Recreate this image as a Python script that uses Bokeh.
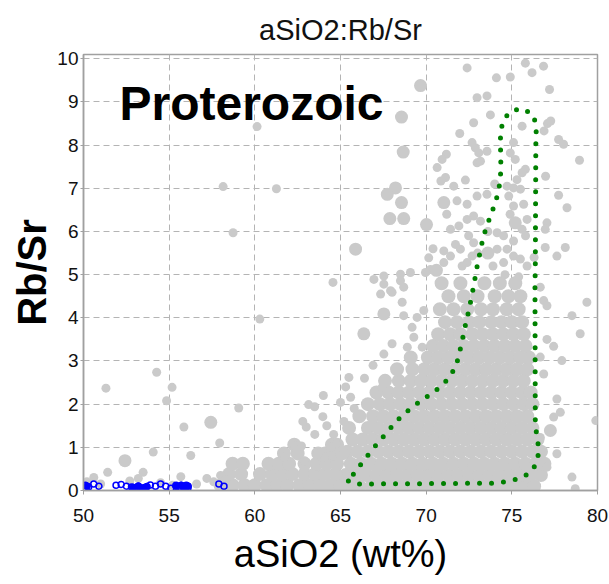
from bokeh.plotting import figure
from bokeh.models import FixedTicker, Range1d, Label
from bokeh.embed import file_html
from bokeh.resources import INLINE

# ---------------- data ----------------
x_ticks = [50, 55, 60, 65, 70, 75, 80]
y_ticks = [0, 1, 2, 3, 4, 5, 6, 7, 8, 9, 10]

# scattered small grey samples
small_x = [60.13, 58.15, 61.26, 58.73, 64.56, 60.29, 54.27, 51.31, 55.17, 54.85, 59.06, 63.97, 55.86, 63.0,
           57.95, 54.07, 56.26, 51.41, 53.48, 55.68, 64.75, 62.33, 62.72, 61.74,
           72.39, 74.1, 74.91, 75.79, 76.85, 76.18, 77.2, 72.97, 73.55, 73.75, 72.77, 75.6, 71.96, 78.95,
           77.73, 78.02, 77.08, 77.27, 76.88, 72.68, 72.87, 73.07, 73.55, 71.18, 70.93, 70.64, 75.1, 74.91,
           75.2, 72.97, 73.17, 75.79, 75.6, 76.97, 71.13, 71.61, 70.86, 72.29, 74.72, 75.1, 75.5, 74.82,
           71.8, 72.39, 72.97, 73.55, 72.77, 73.17, 72.39, 71.91, 71.42, 75.69, 75.89, 75.6, 75.1, 77.05,
           76.95, 77.73, 78.22, 71.71, 72.0, 71.42, 71.03, 72.48, 72.77, 72.68, 72.39, 74.14, 74.52, 75.1,
           74.14, 74.72, 74.52, 75.1, 75.5, 75.89, 76.95, 77.63, 78.12, 70.15, 71.03, 70.25, 69.96, 68.5,
           69.08, 67.53, 66.95, 67.53, 67.92, 67.34, 68.5, 68.69, 68.01, 68.6, 68.69, 68.01, 67.53, 65.49,
           67.43, 65.59, 65.0, 69.18, 69.47, 69.86, 69.28, 68.9, 69.77, 69.11, 76.66, 76.86, 77.05, 76.66,
           76.86, 77.44, 76.66, 77.05, 78.51, 78.7, 79.38, 78.51, 78.99, 77.92, 77.83, 77.63, 77.05, 77.44,
           77.63, 79.9, 64.07, 63.68, 62.9, 63.14, 63.49, 64.46, 65.2, 64.6, 64.2, 65.8,
           50.2, 50.6, 51.0, 52.7, 53.2, 54.5, 56.6, 57.2, 57.6, 58.0, 58.3, 55.2, 74.6, 73.9, 75.4, 76.3,
           63.5, 64.0, 62.8, 66.4, 66.9, 65.3, 73.0, 73.6, 74.9, 75.3, 72.1, 70.4, 71.2, 74.0, 75.8]
small_y = [8.43, 7.04, 6.99, 5.97, 4.82, 3.97, 2.74, 2.37, 2.39, 2.08, 1.91, 1.71, 1.47, 1.47,
           1.10, 0.89, 0.81, 0.42, 0.42, 0.32, 1.08, 1.04, 1.03, 0.77,
           9.79, 9.56, 9.58, 9.9, 9.83, 9.68, 9.29, 9.1, 9.14, 8.70, 8.52, 8.44, 8.27, 7.65,
           8.13, 8.02, 8.5, 8.56, 8.33, 8.06, 7.94, 7.82, 7.86, 7.79, 7.67, 7.48, 8.06, 7.82,
           7.67, 7.59, 7.63, 7.44, 7.36, 7.28, 7.25, 7.05, 7.17, 7.19, 7.05, 7.01, 6.98, 6.82,
           6.71, 6.63, 6.82, 6.86, 6.36, 6.24, 6.28, 6.13, 6.05, 6.63, 6.28, 6.05, 6.59, 6.2,
           6.05, 6.84, 6.55, 5.7, 5.59, 5.43, 5.55, 5.9, 5.74, 5.43, 5.28, 5.97, 5.9, 5.78,
           5.59, 5.59, 5.28, 5.43, 5.36, 5.2, 5.63, 5.43, 5.63, 5.39, 5.28, 5.12, 5.05, 5.01,
           5.05, 4.97, 4.89, 4.78, 4.63, 4.55, 4.86, 4.71, 4.59, 4.36, 4.05, 3.4, 3.16, 2.62,
           2.39, 2.16, 2.04, 3.78, 4.01, 4.17, 3.55, 3.32, 3.32, 3.09, 4.71, 4.4, 4.28, 3.09,
           2.7, 1.7, 1.23, 0.54, 0.31, 0.04, 4.36, 4.05, 3.63, 3.01, 1.81, 0.85, 3.5, 3.34,
           2.12, 1.62, 0.77, 0.85, 0.69, 1.99, 1.94, 1.0, 1.6, 1.3, 1.5, 1.9,
           0.2, 0.3, 0.15, 0.22, 0.28, 0.18, 0.15, 0.28, 0.2, 0.35, 0.25, 0.12, 5.0, 5.2, 4.95, 5.4,
           1.3, 2.2, 1.6, 2.6, 2.9, 2.4, 5.5, 6.0, 6.4, 7.2, 5.2, 5.6, 6.4, 7.1, 5.9]

# scattered large grey samples
large_x = [57.43, 52.42, 69.67, 68.56, 68.66, 68.21, 67.73, 68.56, 68.69, 67.88, 70.02, 71.03, 65.88,
           67.53, 66.36, 77.25, 70.6, 73.6, 75.2]
large_y = [1.58, 0.69, 9.38, 8.65, 7.84, 7.01, 6.86, 6.67, 6.3, 6.3, 6.16, 6.67, 5.59,
           4.09, 3.63, 1.39, 5.1, 5.5, 6.2]

# dense core of the cloud, read row by row
dense_y = [0.10, 0.36, 0.62, 0.90, 1.18, 1.45, 1.72, 2.0, 2.27, 2.54, 2.81, 3.08, 3.35, 3.62, 3.9, 4.2, 4.5, 4.8,
           0.12, 0.38, 0.62, 0.86, 1.06]
dense_x = [
    [65.5, 66.1, 66.8, 67.4, 68.0, 68.6, 69.2, 69.8, 70.4, 71.0, 71.6, 72.2, 72.8, 73.4, 74.0, 74.6, 75.2, 75.8, 76.3],
    [65.3, 65.9, 66.5, 67.1, 67.7, 68.3, 68.9, 69.5, 70.1, 70.7, 71.3, 71.9, 72.5, 73.1, 73.7, 74.3, 74.9, 75.5, 76.1, 76.7],
    [65.6, 66.2, 66.8, 67.4, 68.0, 68.6, 69.2, 69.8, 70.4, 71.0, 71.6, 72.2, 72.8, 73.4, 74.0, 74.6, 75.2, 75.8, 76.4, 76.9],
    [65.4, 66.0, 66.6, 67.2, 67.8, 68.4, 69.0, 69.6, 70.2, 70.8, 71.4, 72.0, 72.6, 73.2, 73.8, 74.4, 75.0, 75.6, 76.2, 76.7],
    [65.7, 66.3, 66.9, 67.5, 68.1, 68.7, 69.3, 69.9, 70.5, 71.1, 71.7, 72.3, 72.9, 73.5, 74.1, 74.7, 75.3, 75.9, 76.5],
    [65.5, 66.6, 67.2, 67.8, 68.4, 69.0, 69.6, 70.2, 70.8, 71.4, 72.0, 72.6, 73.2, 73.8, 74.4, 75.0, 75.6, 76.2],
    [66.1, 66.9, 67.5, 68.1, 68.7, 69.3, 69.9, 70.5, 71.1, 71.7, 72.3, 72.9, 73.5, 74.1, 74.7, 75.3, 75.9],
    [66.6, 67.3, 67.9, 68.5, 69.1, 69.7, 70.3, 70.9, 71.5, 72.1, 72.7, 73.3, 73.9, 74.5, 75.1, 75.7, 76.2],
    [67.1, 67.8, 68.4, 69.0, 69.6, 70.2, 70.8, 71.4, 72.0, 72.6, 73.2, 73.8, 74.4, 75.0, 75.6, 76.1],
    [67.6, 68.4, 69.1, 69.7, 70.3, 70.9, 71.5, 72.1, 72.7, 73.3, 73.9, 74.5, 75.1, 75.7],
    [68.3, 69.2, 69.9, 70.5, 71.1, 71.7, 72.3, 72.9, 73.5, 74.1, 74.7, 75.3, 75.9],
    [69.1, 70.1, 70.7, 71.3, 71.9, 72.5, 73.1, 73.7, 74.3, 74.9, 75.5, 76.0],
    [70.4, 71.0, 71.6, 72.2, 72.8, 73.4, 74.0, 74.6, 75.2, 75.8],
    [70.7, 71.4, 72.0, 72.7, 73.3, 73.9, 74.5, 75.1, 75.7],
    [71.1, 71.8, 72.5, 73.1, 73.8, 74.4, 75.0, 75.6],
    [70.8, 71.6, 72.4, 73.2, 73.9, 74.7, 75.4],
    [71.3, 72.2, 73.0, 74.0, 74.8, 75.5],
    [70.9, 72.0, 73.4, 74.3, 75.2],
    [58.0, 58.7, 59.4, 60.0, 60.7, 61.3, 61.9, 62.6, 63.2, 63.8, 64.4, 65.0],
    [58.5, 59.2, 60.3, 61.0, 61.6, 62.2, 62.9, 63.5, 64.1, 64.7],
    [58.7, 59.3, 60.8, 61.4, 62.0, 62.9, 63.6, 64.2, 64.8],
    [61.7, 62.5, 63.7, 64.1, 64.6, 65.1],
    [62.3, 64.5, 64.8],
]

# blue (other group) samples near zero
blue_x = [50.1, 50.3, 50.6, 50.9, 51.9, 52.2, 52.5, 52.8, 53.0, 53.2, 53.4, 53.6, 53.9, 54.2, 54.5, 54.8,
          55.1, 55.4, 55.6, 55.8, 56.0, 56.1, 57.9, 58.2]
blue_y = [0.12, 0.08, 0.15, 0.1, 0.12, 0.14, 0.1, 0.08, 0.06, 0.1, 0.04, 0.07, 0.13, 0.1, 0.15, 0.1,
          0.05, 0.12, 0.08, 0.1, 0.12, 0.06, 0.15, 0.1]
blue_solid_x = [50.2, 52.9, 53.2, 53.5, 53.7, 55.4, 55.7, 55.9, 56.1]
blue_solid_y = [0.1, 0.07, 0.1, 0.06, 0.09, 0.1, 0.12, 0.08, 0.1]

# hand-drawn Proterozoic field (dotted outline)
field_x = [65.46, 65.75, 74.13, 74.87, 75.56, 76.12, 76.49, 76.57, 76.49, 76.37, 76.35, 76.37, 76.40, 76.43,
           76.24, 75.65, 74.97, 74.52, 74.35, 74.33, 74.35, 74.36, 74.33, 74.23, 74.04, 73.80, 73.57, 73.35,
           73.20, 73.06, 72.92, 72.81, 72.67, 72.53, 72.38, 72.22, 72.09, 71.93, 71.75, 71.40, 70.98, 70.43,
           69.84, 69.26, 68.71, 68.23, 67.76, 67.31, 66.86, 66.43, 66.00, 65.89, 65.46]
field_y = [0.22, 0.15, 0.17, 0.22, 0.29, 0.43, 0.67, 0.95, 1.22, 1.49, 4.81, 5.11, 8.0, 8.45,
           8.70, 8.85, 8.80, 8.60, 8.33, 8.06, 7.78, 7.50, 7.23, 6.95, 6.67, 6.41, 6.16, 5.90,
           5.63, 5.35, 5.09, 4.81, 4.53, 4.25, 3.98, 3.71, 3.44, 3.17, 2.89, 2.65, 2.45, 2.28,
           2.12, 1.95, 1.78, 1.59, 1.37, 1.16, 0.95, 0.73, 0.51, 0.45, 0.22]

field_label = "Proterozoic"
field_label_x = 52.10
field_label_y = 8.97
title_text = "aSiO2:Rb/Sr"
x_title = "aSiO2 (wt%)"
y_title = "Rb/Sr"

# ---------------- figure ----------------
FONT = "Liberation Sans"
GREY = "#cacaca"

p = figure(width=609, height=584, x_range=Range1d(50, 80), y_range=Range1d(0, 10.1),
           output_backend="svg", toolbar_location=None,
           min_border_left=83, min_border_right=12, min_border_top=54, min_border_bottom=94,
           background_fill_color="white", border_fill_color="white")

p.title.text = title_text
p.title.align = "center"
p.title.text_font = FONT
p.title.text_font_size = "29px"
p.title.text_font_style = "normal"
p.title.text_color = "#111111"
p.title.standoff = 18

p.outline_line_color = "#a0a0a0"
p.outline_line_width = 1.5

for ax in (p.xaxis, p.yaxis):
    ax.axis_line_color = "#a0a0a0"
    ax.axis_line_width = 1.5
    ax.major_tick_line_color = "#a0a0a0"
    ax.major_tick_in = 0
    ax.minor_tick_line_color = None
    ax.major_label_text_font = FONT
    ax.major_label_text_font_size = "19px"
    ax.major_label_text_color = "#111111"
    ax.axis_label_text_color = "black"
    ax.axis_label_text_font = FONT

p.xaxis.ticker = FixedTicker(ticks=x_ticks)
p.yaxis.ticker = FixedTicker(ticks=y_ticks)
p.xaxis.major_tick_out = 4
p.yaxis.major_tick_out = 3
p.xaxis.major_label_standoff = 14
p.yaxis.major_label_standoff = 2

p.xaxis.axis_label = x_title
p.xaxis.axis_label_text_font_size = "38px"
p.xaxis.axis_label_text_font_style = "normal"
p.xaxis.axis_label_standoff = 8

p.yaxis.axis_label = y_title
p.yaxis.axis_label_text_font_size = "40px"
p.yaxis.axis_label_text_font_style = "bold"
p.yaxis.axis_label_standoff = 0

p.grid.grid_line_color = "#b4b4b4"
p.grid.grid_line_dash = "6 4"
p.grid.grid_line_width = 1
p.xgrid.ticker = FixedTicker(ticks=x_ticks)
p.ygrid.ticker = FixedTicker(ticks=y_ticks)

# dense core
dx, dy = [], []
for yv, row in zip(dense_y, dense_x):
    for xv in row:
        dx.append(xv)
        dy.append(yv)
p.scatter(dx, dy, size=14, fill_color=GREY, line_color=None)
p.scatter(small_x, small_y, size=9, fill_color=GREY, line_color=None)
p.scatter(large_x, large_y, size=13, fill_color=GREY, line_color=None)

p.scatter(blue_x, blue_y, size=6, fill_color=None, line_color="#0000ff", line_width=1.5)
p.scatter(blue_solid_x, blue_solid_y, size=7, fill_color="#0000ff", line_color="#0000ff")

p.line(field_x, field_y, line_color="#008000", line_width=5, line_dash="0 12", line_cap="round")

p.add_layout(Label(x=field_label_x, y=field_label_y, text=field_label, text_font=FONT,
                   text_font_size="48px", text_font_style="bold", text_color="black",
                   text_baseline="middle", text_align="left"))

open("out.html", "w").write(file_html(p, INLINE))
